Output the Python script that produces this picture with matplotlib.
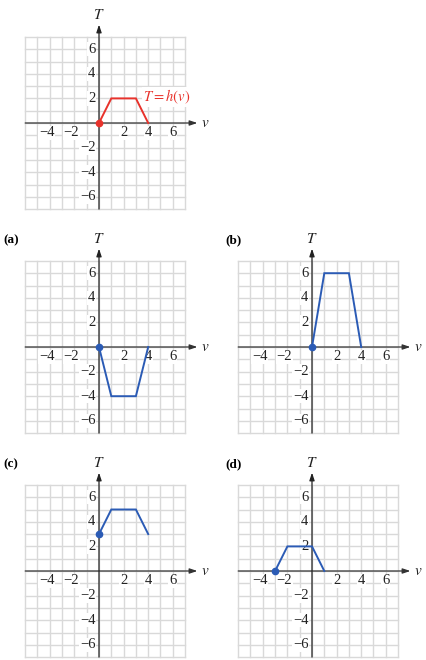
import matplotlib
matplotlib.use("Agg")
import matplotlib.pyplot as plt

plt.rcParams["mathtext.fontset"] = "stix"

# ---- data ----
h_v = [0, 1, 3, 4]
h_T = [0, 2, 2, 0]
a_v = [0, 1, 3, 4]
a_T = [0, -4, -4, 0]
b_v = [0, 1, 3, 4]
b_T = [0, 6, 6, 0]
c_v = [0, 1, 3, 4]
c_T = [3, 5, 5, 3]
d_v = [-3, -2, 0, 1]
d_T = [0, 2, 2, 0]
x_ticks = [-4, -2, 2, 4, 6]
y_ticks = [6, 4, 2, -2, -4, -6]

W, H = 427, 660
U = 12.3
RED = "#e8322b"
BLUE = "#2b5bb5"
SERIF = ["Liberation Serif", "DejaVu Serif"]

fig = plt.figure(figsize=(W / 100, H / 100), dpi=100)


def fmt(n):
    return ("\u2212%d" % -n) if n < 0 else "%d" % n


def panel(ox, oy, vs, Ts, color, label=None, curve_label=None):
    x0, x1, y0, y1 = -6.5, 9.0, -7.5, 9.5
    left = ox + x0 * U
    top = oy - y1 * U
    w = (x1 - x0) * U
    hgt = (y1 - y0) * U
    ax = fig.add_axes([left / W, (H - top - hgt) / H, w / W, hgt / H])
    ax.set_xlim(x0, x1)
    ax.set_ylim(y0, y1)
    ax.axis("off")
    # grid
    for gx in range(-6, 8):
        ax.plot([gx, gx], [-7, 7], color="#d9d9d9", lw=1.0, zorder=1)
    for gy in range(-7, 8):
        ax.plot([-6, 7], [gy, gy], color="#d9d9d9", lw=1.0, zorder=1)
    # axes
    ax.annotate("", xy=(8.0, 0), xytext=(-6, 0),
                arrowprops=dict(arrowstyle="-|>,head_length=0.45,head_width=0.15",
                                color="#333333", lw=0.9, shrinkA=0, shrinkB=0), zorder=3)
    ax.annotate("", xy=(0, 8.0), xytext=(0, -7),
                arrowprops=dict(arrowstyle="-|>,head_length=0.45,head_width=0.15",
                                color="#222222", lw=0.9, shrinkA=0, shrinkB=0), zorder=3)
    ax.text(8.6, 0.05, "$v$", fontsize=11, color="#222222",
            ha="center", va="center")
    ax.text(0, 8.85, "$T$", fontsize=11, color="#222222",
            ha="center", va="center")
    for t in x_ticks:
        xpos = t - 0.25 if t < 0 else t
        ax.text(xpos, -0.8, fmt(t), fontsize=10.5, family=SERIF, ha="center",
                va="center", zorder=4, color="#222222",
                bbox=dict(boxstyle="square,pad=0.05", fc="white", ec="none"))
    for t in y_ticks:
        ax.text(-0.3, t, fmt(t), fontsize=10.5, family=SERIF, ha="right",
                va="center", zorder=4, color="#222222",
                bbox=dict(boxstyle="square,pad=0.05", fc="white", ec="none"))
    # curve
    ax.plot(vs, Ts, color=color, lw=1.4, zorder=5, solid_joinstyle="miter")
    ax.plot([vs[0]], [Ts[0]], "o", color=color, ms=4.5, zorder=6)
    if curve_label:
        ax.text(3.55, 2.1, curve_label, fontsize=10.5, color=RED,
                ha="left", va="center", zorder=6,
                bbox=dict(boxstyle="square,pad=0.05", fc="white", ec="none"))
    if label:
        fig.text(label[1] / W, 1 - label[2] / H, label[0], fontsize=9.5,
                 fontweight="bold", family=SERIF, ha="left", va="center")
    return ax


panel(99, 123, h_v, h_T, RED, curve_label="$T = h(v)$")
panel(99, 347, a_v, a_T, BLUE, label=("(a)", 3, 240))
panel(312, 347, b_v, b_T, BLUE, label=("(b)", 225, 240))
panel(99, 571, c_v, c_T, BLUE, label=("(c)", 3, 464))
panel(312, 571, d_v, d_T, BLUE, label=("(d)", 225, 464))

fig.savefig("out.png", dpi=100)
